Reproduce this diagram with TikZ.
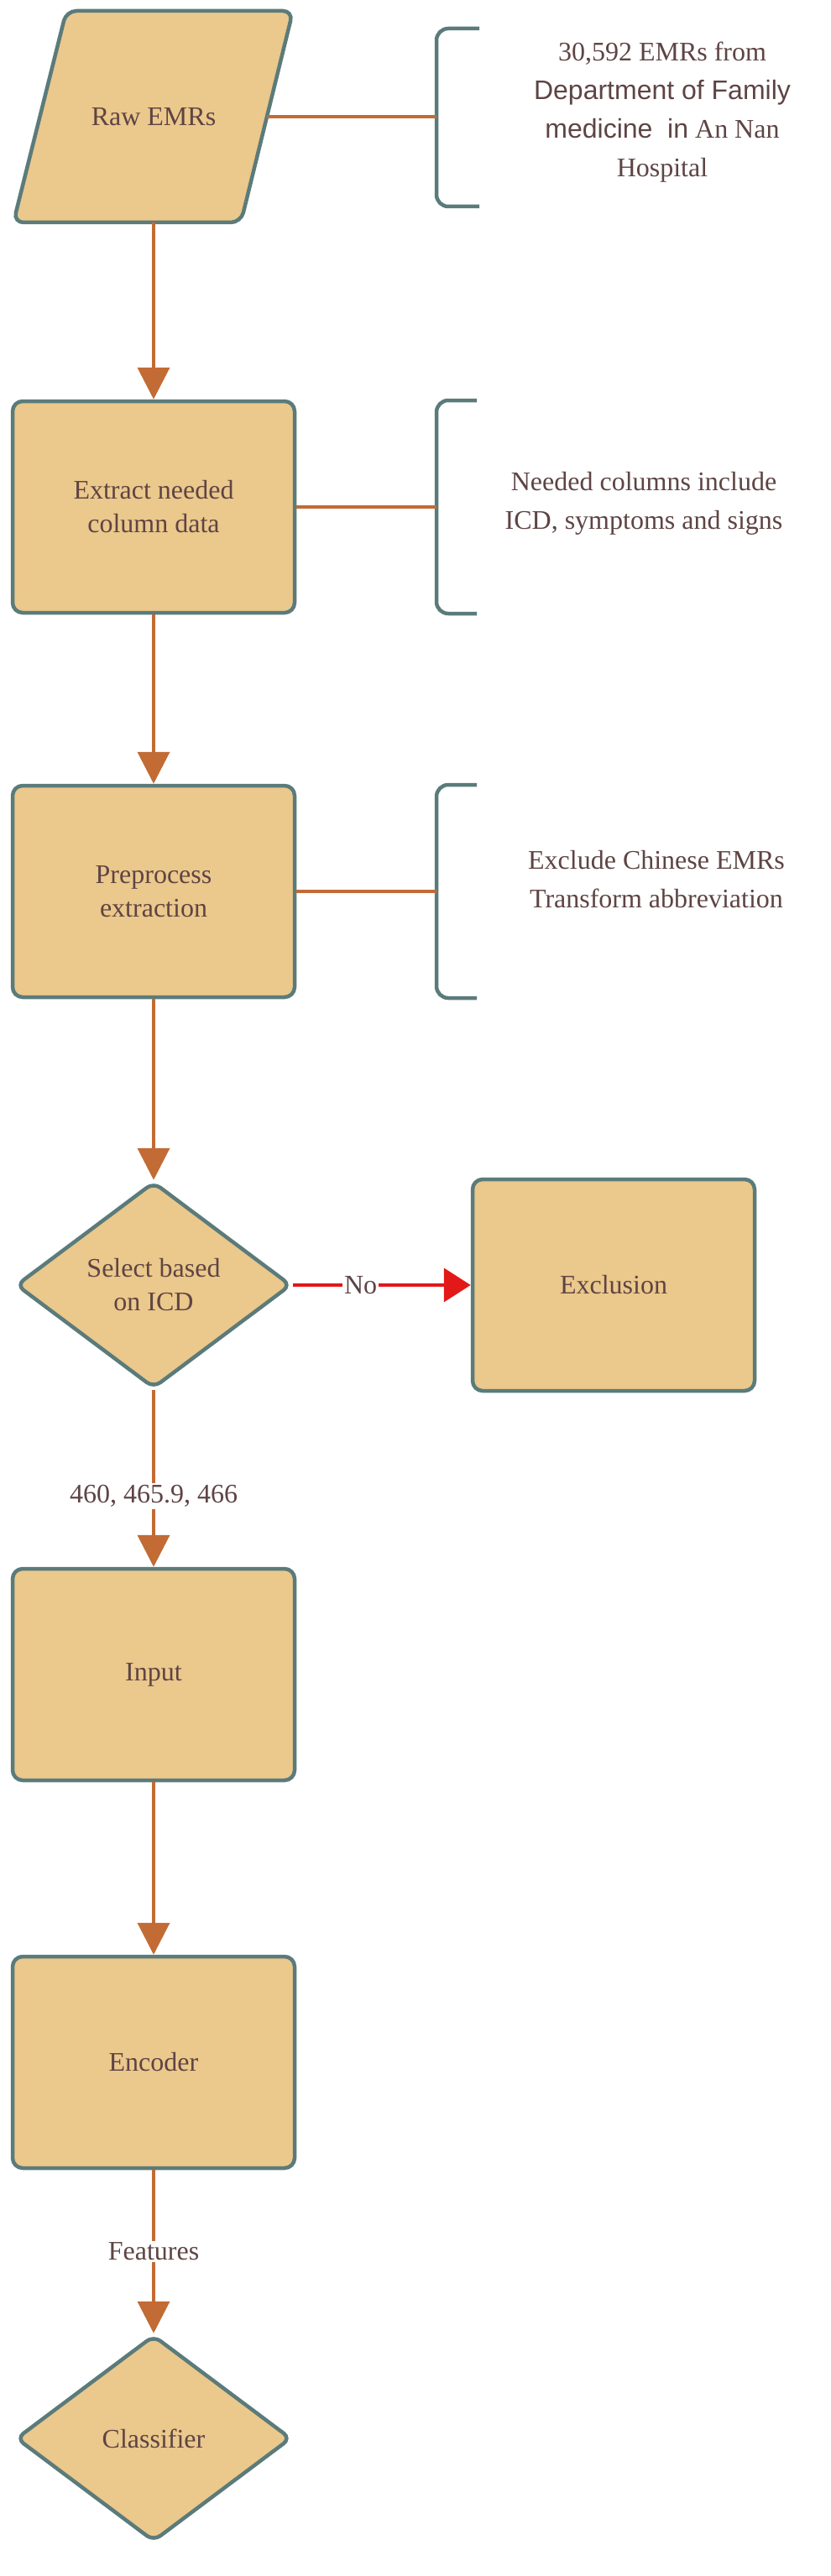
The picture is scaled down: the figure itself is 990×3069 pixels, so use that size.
\documentclass[tikz,border=0pt]{standalone}
\usepackage{fontspec}
\setmainfont{Liberation Serif}
\newfontfamily\sansf{Liberation Sans}
\usetikzlibrary{shapes.geometric,arrows.meta}
\definecolor{boxfill}{HTML}{EBC88B}
\definecolor{boxline}{HTML}{5B7B7B}
\definecolor{conn}{HTML}{C26B35}
\definecolor{txt}{HTML}{5E4444}
\definecolor{nored}{HTML}{E31818}
\begin{document}
\begin{tikzpicture}[x=1pt,y=-1pt,
  box/.style={draw=boxline,line width=4.5pt,fill=boxfill,rounded corners=12pt,minimum width=336pt,minimum height=252pt,text=txt,font=\fontsize{32}{40}\selectfont,align=center},
  dia/.style={draw=boxline,line width=4.5pt,fill=boxfill,diamond,rounded corners=10pt,minimum width=328pt,minimum height=246pt,aspect=1.33,inner sep=0pt,text=txt,font=\fontsize{32}{40}\selectfont,align=center},
  arr/.style={draw=conn,line width=4pt,-{Triangle[length=38pt,width=38pt]}},
  link/.style={draw=conn,line width=4pt},
  brace/.style={draw=boxline,line width=4.5pt,rounded corners=14pt},
  note/.style={text=txt,font=\fontsize{32}{46}\selectfont,align=center},
  lab/.style={text=txt,font=\fontsize{32}{40}\selectfont,fill=white,inner sep=2pt}]
\useasboundingbox (0,0) rectangle (990,3069);
% Raw EMRs parallelogram
\filldraw[draw=boxline,line width=4.5pt,fill=boxfill,rounded corners=12pt]
  (79,13) -- (349,13) -- (287,265) -- (16,265) -- cycle;
\node[text=txt,font=\fontsize{32}{40}\selectfont] (raw) at (183,139) {Raw EMRs};
\coordinate (rawR) at (318,139);
\coordinate (rawB) at (183,265);
\node[box] (ext) at (183,604) {Extract needed\\column data};
\node[box] (pre) at (183,1062) {Preprocess\\extraction};
\node[dia] (sel) at (183,1531) {Select based\\on ICD};
\node[box] (exc) at (731,1531) {Exclusion};
\node[box] (inp) at (183,1995) {Input};
\node[box] (enc) at (183,2457) {Encoder};
\node[dia] (cls) at (183,2905) {Classifier};
% braces
\coordinate (b1) at (520,139);
\draw[brace] (571,34) -- (520,34) -- (520,246) -- (571,246);
\coordinate (b2) at (520,604);
\draw[brace] (568,477) -- (520,477) -- (520,731) -- (568,731);
\coordinate (b3) at (520,1062);
\draw[brace] (568,935) -- (520,935) -- (520,1189) -- (568,1189);
\node[note] (n1) at (789,134) {30,592 EMRs from\\{\sansf Department of Family}\\{\sansf medicine\ \ in} An Nan\\Hospital};
\node[note] (n2) at (767,600) {Needed columns include\\ICD, symptoms and signs};
\node[note] (n3) at (782,1048) {Exclude Chinese EMRs\\Transform abbreviation};
% connectors
\draw[link] (rawR) -- (b1);
\draw[link] (ext.east) -- (b2);
\draw[link] (pre.east) -- (b3);
\draw[arr] (rawB) -- (ext.north);
\draw[arr] (ext.south) -- (pre.north);
\draw[arr] (pre.south) -- (sel.north);
\draw[arr,draw=nored,-{Triangle[length=32pt,width=40pt,fill=nored]}] (sel.east) -- node[lab,pos=0.38]{No} (exc.west);
\draw[arr] (sel.south) -- node[lab,pos=0.6]{460, 465.9, 466} (inp.north);
\draw[arr] (inp.south) -- (enc.north);
\draw[arr] (enc.south) -- node[lab,pos=0.5]{Features} (cls.north);
\end{tikzpicture}
\end{document}
